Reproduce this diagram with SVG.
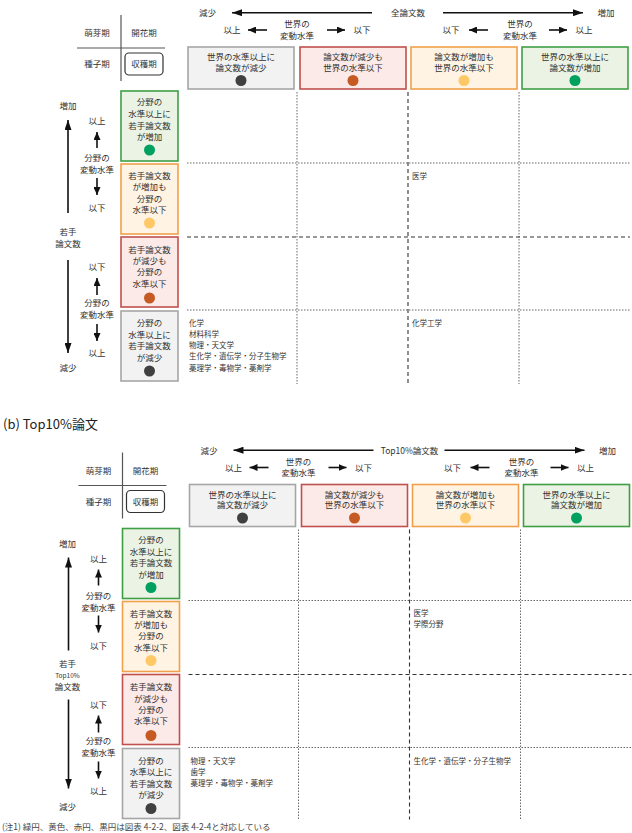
<svg xmlns="http://www.w3.org/2000/svg" width="632" height="833" viewBox="0 0 632 833">
<defs>
<style>
text{font-family:"Noto Sans CJK JP","Noto Sans",sans-serif;fill:#333}
.t{font-size:8.5px;text-anchor:middle}
.s{font-size:6.5px;text-anchor:middle}
.c{font-size:7.5px}
.ttl{font-size:13px;fill:#222}
.fn{font-size:8.5px;fill:#444}
.ar{stroke:#111;stroke-width:1.6;fill:none}
.ax{stroke:#555;stroke-width:1.2;fill:none}
.dot{stroke:#666;stroke-width:1;stroke-dasharray:1.5 1.5;fill:none}
.dash{stroke:#333;stroke-width:1.1;stroke-dasharray:4 3;fill:none}
.gy{fill:#f2f2f2;stroke:#a6a6a6;stroke-width:1.6}
.rd{fill:#fbeae8;stroke:#c0504d;stroke-width:1.6}
.or{fill:#fff4e4;stroke:#f0a04b;stroke-width:1.6}
.gr{fill:#eaf3e4;stroke:#3f9f45;stroke-width:1.6}
.cgy{fill:#404040}.crd{fill:#c55a22}.cor{fill:#ffc866}.cgr{fill:#00a060}
</style>
<marker id="ah" viewBox="0 0 10 7" refX="10" refY="3.5" markerWidth="10" markerHeight="7" markerUnits="userSpaceOnUse" orient="auto"><path d="M0,0 L10,3.5 L0,7 z" fill="#111"/></marker>
<marker id="ahs" viewBox="0 0 8 7" refX="8" refY="3.5" markerWidth="8" markerHeight="7" markerUnits="userSpaceOnUse" orient="auto"><path d="M0,0 L8,3.5 L0,7 z" fill="#111"/></marker>
</defs>
<rect width="632" height="833" fill="#fff"/>

<g id="panel-a">
<g id="a-crosstab">
<line class="ax" x1="121" y1="15" x2="121" y2="81"/>
<line class="ax" x1="77" y1="48" x2="165" y2="48"/>
<text class="t" x="97" y="36">萌芽期</text>
<text class="t" x="144" y="36">開花期</text>
<text class="t" x="97" y="67">種子期</text>
<rect x="125" y="53" width="38" height="22" rx="4" fill="#fff" stroke="#333" stroke-width="1.2"/>
<text class="t" x="144" y="67">収穫期</text>
</g>
<g id="a-xaxis-labels">
<text class="t" x="207.5" y="16">減少</text>
<text class="t" x="408" y="16">全論文数</text>
<text class="t" x="606" y="16">増加</text>
<text class="t" x="232" y="33">以上</text>
<text class="t" x="297" y="27">世界の</text>
<text class="t" x="297" y="38.5">変動水準</text>
<text class="t" x="362" y="33">以下</text>
<text class="t" x="451" y="33">以下</text>
<text class="t" x="520" y="27">世界の</text>
<text class="t" x="520" y="38.5">変動水準</text>
<text class="t" x="584" y="33">以上</text>
</g>
<g id="a-col1"><rect class="gy" x="188" y="47" width="106" height="42"/><text class="t" x="241" y="60">世界の水準以上に</text><text class="t" x="241" y="70.5">論文数が減少</text><circle class="cgy" cx="241" cy="80.5" r="5.5"/></g>
<g id="a-col2"><rect class="rd" x="300" y="47" width="106" height="42"/><text class="t" x="353" y="60">論文数が減少も</text><text class="t" x="353" y="70.5">世界の水準以下</text><circle class="crd" cx="353" cy="80.5" r="5.5"/></g>
<g id="a-col3"><rect class="or" x="411" y="47" width="106" height="42"/><text class="t" x="464" y="60">論文数が増加も</text><text class="t" x="464" y="70.5">世界の水準以下</text><circle class="cor" cx="464" cy="80.5" r="5.5"/></g>
<g id="a-col4"><rect class="gr" x="522" y="47" width="106" height="42"/><text class="t" x="575" y="60">世界の水準以上に</text><text class="t" x="575" y="70.5">論文数が増加</text><circle class="cgr" cx="575" cy="80.5" r="5.5"/></g>

<g id="a-row1"><rect class="gr" x="121" y="91" width="57" height="70"/><text class="t" x="149.5" y="105">分野の</text><text class="t" x="149.5" y="117">水準以上に</text><text class="t" x="149.5" y="128.5">若手論文数</text><text class="t" x="149.5" y="140">が増加</text><circle class="cgr" cx="149.5" cy="150" r="5.5"/></g>
<g id="a-row2"><rect class="or" x="121" y="164" width="57" height="70"/><text class="t" x="149.5" y="179">若手論文数</text><text class="t" x="149.5" y="190.3">が増加も</text><text class="t" x="149.5" y="201.6">分野の</text><text class="t" x="149.5" y="213">水準以下</text><circle class="cor" cx="149.5" cy="223" r="5.5"/></g>
<g id="a-row3"><rect class="rd" x="121" y="237" width="57" height="70"/><text class="t" x="149.5" y="252.5">若手論文数</text><text class="t" x="149.5" y="264">が減少も</text><text class="t" x="149.5" y="275">分野の</text><text class="t" x="149.5" y="286.5">水準以下</text><circle class="crd" cx="149.5" cy="298" r="5.5"/></g>
<g id="a-row4"><rect class="gy" x="121" y="311" width="57" height="70"/><text class="t" x="149.5" y="326">分野の</text><text class="t" x="149.5" y="337.5">水準以上に</text><text class="t" x="149.5" y="349">若手論文数</text><text class="t" x="149.5" y="360.5">が減少</text><circle class="cgy" cx="149.5" cy="371" r="5.5"/></g>

<g id="a-yaxis-labels">
<text class="t" x="68" y="109">増加</text>
<text class="t" x="68" y="235">若手</text>
<text class="t" x="68" y="247">論文数</text>
<text class="t" x="68" y="371">減少</text>
<text class="t" x="97" y="124">以上</text>
<text class="t" x="97" y="161">分野の</text>
<text class="t" x="97" y="173">変動水準</text>
<text class="t" x="97" y="211">以下</text>
<text class="t" x="97" y="270">以下</text>
<text class="t" x="97" y="306">分野の</text>
<text class="t" x="97" y="318">変動水準</text>
<text class="t" x="97" y="356">以上</text>
</g>

<g id="a-grid">
<line class="dot" x1="297" y1="92" x2="297" y2="384"/>
<line class="dash" x1="408" y1="92" x2="408" y2="384"/>
<line class="dot" x1="519" y1="92" x2="519" y2="384"/>
<line class="dot" x1="187" y1="163" x2="630" y2="163"/>
<line class="dash" x1="187" y1="237" x2="630" y2="237"/>
<line class="dot" x1="187" y1="310" x2="630" y2="310"/>
</g>
<g id="a-cells">
<text class="c" x="412" y="179">医学</text>
<text class="c" x="189" y="326">化学</text>
<text class="c" x="189" y="337">材料科学</text>
<text class="c" x="189" y="348">物理・天文学</text>
<text class="c" x="189" y="359">生化学・遺伝学・分子生物学</text>
<text class="c" x="189" y="370.5">薬理学・毒物学・薬剤学</text>
<text class="c" x="412" y="326">化学工学</text>
</g>
<g id="a-connectors">
<line class="ar" x1="372" y1="12.7" x2="232" y2="12.7" marker-end="url(#ah)"/>
<line class="ar" x1="443" y1="12.7" x2="583" y2="12.7" marker-end="url(#ah)"/>
<line class="ar" x1="267" y1="30" x2="248" y2="30" marker-end="url(#ahs)"/>
<line class="ar" x1="327" y1="30" x2="345" y2="30" marker-end="url(#ahs)"/>
<line class="ar" x1="488" y1="30" x2="469" y2="30" marker-end="url(#ahs)"/>
<line class="ar" x1="549" y1="30" x2="567" y2="30" marker-end="url(#ahs)"/>
<line class="ar" x1="68" y1="213" x2="68" y2="120" marker-end="url(#ah)"/>
<line class="ar" x1="68" y1="260" x2="68" y2="353" marker-end="url(#ah)"/>
<line class="ar" x1="97" y1="148" x2="97" y2="132" marker-end="url(#ahs)"/>
<line class="ar" x1="97" y1="178" x2="97" y2="195" marker-end="url(#ahs)"/>
<line class="ar" x1="97" y1="295" x2="97" y2="278" marker-end="url(#ahs)"/>
<line class="ar" x1="97" y1="324" x2="97" y2="341" marker-end="url(#ahs)"/>
</g>
</g>

<g id="title-b"><text class="ttl" x="3" y="429">(b) Top10%論文</text></g>

<g id="panel-b" transform="translate(1.5,437.5)">
<g id="b-crosstab">
<line class="ax" x1="121" y1="15" x2="121" y2="81"/>
<line class="ax" x1="77" y1="48" x2="165" y2="48"/>
<text class="t" x="97" y="36">萌芽期</text>
<text class="t" x="144" y="36">開花期</text>
<text class="t" x="97" y="67">種子期</text>
<rect x="125" y="53" width="38" height="22" rx="4" fill="#fff" stroke="#333" stroke-width="1.2"/>
<text class="t" x="144" y="67">収穫期</text>
</g>
<g id="b-xaxis-labels">
<text class="t" x="207.5" y="16">減少</text>
<text class="t" x="408" y="16" font-size="8px">Top10%論文数</text>
<text class="t" x="606" y="16">増加</text>
<text class="t" x="232" y="33">以上</text>
<text class="t" x="297" y="27">世界の</text>
<text class="t" x="297" y="38.5">変動水準</text>
<text class="t" x="362" y="33">以下</text>
<text class="t" x="451" y="33">以下</text>
<text class="t" x="520" y="27">世界の</text>
<text class="t" x="520" y="38.5">変動水準</text>
<text class="t" x="584" y="33">以上</text>
</g>
<g id="b-col1"><rect class="gy" x="188" y="47" width="106" height="42"/><text class="t" x="241" y="60">世界の水準以上に</text><text class="t" x="241" y="70.5">論文数が減少</text><circle class="cgy" cx="241" cy="80.5" r="5.5"/></g>
<g id="b-col2"><rect class="rd" x="300" y="47" width="106" height="42"/><text class="t" x="353" y="60">論文数が減少も</text><text class="t" x="353" y="70.5">世界の水準以下</text><circle class="crd" cx="353" cy="80.5" r="5.5"/></g>
<g id="b-col3"><rect class="or" x="411" y="47" width="106" height="42"/><text class="t" x="464" y="60">論文数が増加も</text><text class="t" x="464" y="70.5">世界の水準以下</text><circle class="cor" cx="464" cy="80.5" r="5.5"/></g>
<g id="b-col4"><rect class="gr" x="522" y="47" width="106" height="42"/><text class="t" x="575" y="60">世界の水準以上に</text><text class="t" x="575" y="70.5">論文数が増加</text><circle class="cgr" cx="575" cy="80.5" r="5.5"/></g>

<g id="b-row1"><rect class="gr" x="121" y="91" width="57" height="70"/><text class="t" x="149.5" y="105">分野の</text><text class="t" x="149.5" y="117">水準以上に</text><text class="t" x="149.5" y="128.5">若手論文数</text><text class="t" x="149.5" y="140">が増加</text><circle class="cgr" cx="149.5" cy="150" r="5.5"/></g>
<g id="b-row2"><rect class="or" x="121" y="164" width="57" height="70"/><text class="t" x="149.5" y="179">若手論文数</text><text class="t" x="149.5" y="190.3">が増加も</text><text class="t" x="149.5" y="201.6">分野の</text><text class="t" x="149.5" y="213">水準以下</text><circle class="cor" cx="149.5" cy="223" r="5.5"/></g>
<g id="b-row3"><rect class="rd" x="121" y="237" width="57" height="70"/><text class="t" x="149.5" y="252.5">若手論文数</text><text class="t" x="149.5" y="264">が減少も</text><text class="t" x="149.5" y="275">分野の</text><text class="t" x="149.5" y="286.5">水準以下</text><circle class="crd" cx="149.5" cy="298" r="5.5"/></g>
<g id="b-row4"><rect class="gy" x="121" y="311" width="57" height="70"/><text class="t" x="149.5" y="326">分野の</text><text class="t" x="149.5" y="337.5">水準以上に</text><text class="t" x="149.5" y="349">若手論文数</text><text class="t" x="149.5" y="360.5">が減少</text><circle class="cgy" cx="149.5" cy="371" r="5.5"/></g>

<g id="b-yaxis-labels">
<text class="t" x="66" y="109">増加</text>
<text class="t" x="66" y="229">若手</text>
<text class="s" x="66" y="240.5">Top10%</text>
<text class="t" x="66" y="252.5">論文数</text>
<text class="t" x="66" y="372">減少</text>
<text class="t" x="97" y="124">以上</text>
<text class="t" x="97" y="161">分野の</text>
<text class="t" x="97" y="173">変動水準</text>
<text class="t" x="97" y="211">以下</text>
<text class="t" x="97" y="270">以下</text>
<text class="t" x="97" y="306">分野の</text>
<text class="t" x="97" y="318">変動水準</text>
<text class="t" x="97" y="356">以上</text>
</g>

<g id="b-grid">
<line class="dot" x1="297" y1="92" x2="297" y2="382"/>
<line class="dash" x1="408" y1="92" x2="408" y2="382"/>
<line class="dot" x1="519" y1="92" x2="519" y2="382"/>
<line class="dot" x1="187" y1="163" x2="630" y2="163"/>
<line class="dash" x1="187" y1="237" x2="630" y2="237"/>
<line class="dot" x1="187" y1="310" x2="630" y2="310"/>
</g>
<g id="b-cells">
<text class="c" x="412" y="178.5">医学</text>
<text class="c" x="412" y="189.5">学際分野</text>
<text class="c" x="189" y="326">物理・天文学</text>
<text class="c" x="189" y="337">歯学</text>
<text class="c" x="189" y="348">薬理学・毒物学・薬剤学</text>
<text class="c" x="412" y="326">生化学・遺伝学・分子生物学</text>
</g>
<g id="b-connectors">
<line class="ar" x1="372" y1="12.7" x2="232" y2="12.7" marker-end="url(#ah)"/>
<line class="ar" x1="443" y1="12.7" x2="583" y2="12.7" marker-end="url(#ah)"/>
<line class="ar" x1="267" y1="30" x2="248" y2="30" marker-end="url(#ahs)"/>
<line class="ar" x1="327" y1="30" x2="345" y2="30" marker-end="url(#ahs)"/>
<line class="ar" x1="488" y1="30" x2="469" y2="30" marker-end="url(#ahs)"/>
<line class="ar" x1="549" y1="30" x2="567" y2="30" marker-end="url(#ahs)"/>
<line class="ar" x1="67" y1="213" x2="67" y2="120" marker-end="url(#ah)"/>
<line class="ar" x1="67" y1="262" x2="67" y2="351" marker-end="url(#ah)"/>
<line class="ar" x1="97" y1="148" x2="97" y2="132" marker-end="url(#ahs)"/>
<line class="ar" x1="97" y1="178" x2="97" y2="195" marker-end="url(#ahs)"/>
<line class="ar" x1="97" y1="295" x2="97" y2="278" marker-end="url(#ahs)"/>
<line class="ar" x1="97" y1="324" x2="97" y2="341" marker-end="url(#ahs)"/>
</g>
</g>

<g id="footnote"><text class="fn" x="2" y="829.5">(注1) 緑円、黄色、赤円、黒円は図表 4-2-2、図表 4-2-4と対応している</text></g>
</svg>
